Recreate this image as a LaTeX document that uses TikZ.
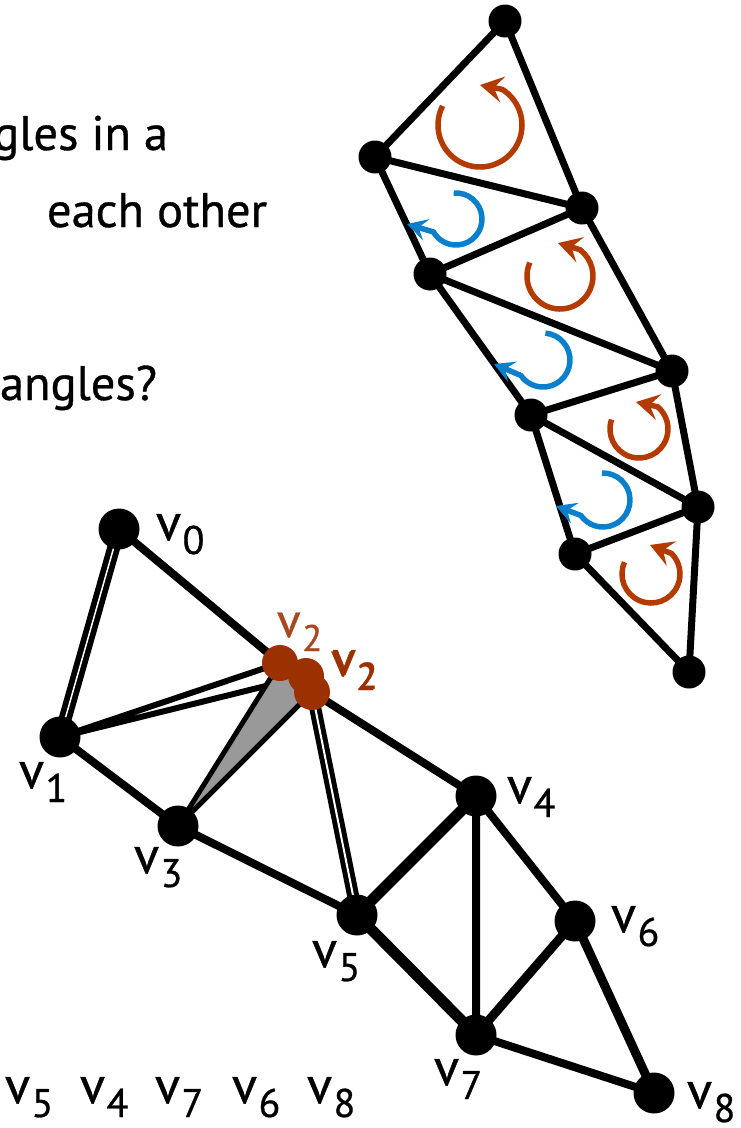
\documentclass[tikz,border=0pt]{standalone}
\usepackage{fontspec}
\setmainfont{PT Sans}[UprightFeatures={FakeBold=0.7}]
\usetikzlibrary{arrows.meta,calc}
\definecolor{rust}{HTML}{B33B00}
\definecolor{sky}{HTML}{0A80CC}
\definecolor{browndot}{HTML}{9C3100}
\definecolor{brownlab}{HTML}{A8481E}
\definecolor{sliver}{HTML}{999999}
\newcommand\vlab[2][40]{v\kern1.5pt\raisebox{-14pt}{\fontsize{#1}{#1}\selectfont #2}}
\begin{document}
\begin{tikzpicture}[x=1pt,y=-1pt,
  every node/.style={inner sep=0pt, outer sep=0pt},
  tdot/.style={circle, fill=black, minimum size=33pt},
  mdot/.style={circle, fill=black, minimum size=41pt},
  bdot/.style={circle, fill=browndot, minimum size=36pt},
  tedge/.style={line width=7pt},
  medge/.style={line width=8pt},
  wedge/.style={line width=11pt},
  lab/.style={anchor=base west, font=\fontsize{52}{52}\selectfont},
  txt/.style={font=\fontsize{48.5}{60}\selectfont},
  redarc/.style={draw=rust, line width=5.5pt, -{Stealth[length=23pt,width=26pt,inset=9pt]}},
  bluearc/.style={draw=sky, line width=5.5pt, -{Stealth[length=20pt,width=22pt,inset=8pt]}},
]
\useasboundingbox (0,0) rectangle (740,1128);

% ---------- text ----------
\node[txt, anchor=base east] (t1) at (168,150) {gles in a};
\node[txt, anchor=base west] (t2) at (47,227) {each other};
\node[txt, anchor=base west] (t3) at (0,400) {angles?};

% ---------- top strip ----------
\coordinate (T0) at (505,21);
\coordinate (T1) at (375,157);
\coordinate (T2) at (582,208);
\coordinate (T3) at (430,274);
\coordinate (T4) at (672,371);
\coordinate (T5) at (531,415);
\coordinate (T6) at (698,507);
\coordinate (T7) at (575,554);
\coordinate (T8) at (689,672);
\draw[tedge] (T0)--(T1) (T0)--(T2) (T1)--(T2) (T1)--(T3) (T2)--(T3)
  (T2)--(T4) (T3)--(T4) (T3)--(T5) (T4)--(T5) (T4)--(T6) (T5)--(T6)
  (T5)--(T7) (T6)--(T7) (T6)--(T8) (T7)--(T8);
\foreach \i in {0,...,8} \node[tdot] (TD\i) at (T\i) {};

% rotation arrows
\coordinate (R1) at (480,125);
\draw[redarc] ($(R1)+(207:42)$) arc[start angle=207, end angle=-58, radius=42] -- (480,85);
\coordinate (R2) at (560,276);
\draw[redarc] ($(R2)+(204:33)$) arc[start angle=204, end angle=-53, radius=33] -- (558,243);
\coordinate (R3) at (639,429);
\draw[redarc] ($(R3)+(199:29)$) arc[start angle=199, end angle=-50, radius=29] -- (636,402);
\coordinate (R4) at (651,574);
\draw[redarc] ($(R4)+(204:29)$) arc[start angle=204, end angle=-45, radius=29] -- (650,545);
\coordinate (B1) at (456,219);
\draw[bluearc] ($(B1)+(-95:26)$) arc[start angle=-95, end angle=150, radius=26] -- (407,224);
\coordinate (B2) at (543,360);
\draw[bluearc] ($(B2)+(-85:27)$) arc[start angle=-85, end angle=145, radius=27] -- (494,364);
\coordinate (B3) at (603,500);
\draw[bluearc] ($(B3)+(-92:27)$) arc[start angle=-92, end angle=145, radius=27] -- (556,506);

% ---------- lower mesh ----------
\coordinate (v0) at (119,529);
\coordinate (v1) at (60,737);
\coordinate (b1) at (280,663);
\coordinate (b2) at (306,676);
\coordinate (b3) at (312,692);
\coordinate (v3) at (178,826);
\coordinate (v4) at (476,796);
\coordinate (v5) at (357,915);
\coordinate (v6) at (575,921);
\coordinate (v7) at (476,1035);
\coordinate (v8) at (654,1093);

\draw[line width=13pt] (v0)--(v1);
\draw[white, line width=1.5pt] (v0)--(v1);
\draw[line width=12pt] (b3)--(v5);
\draw[white, line width=2pt] (b3)--(v5);
\draw[line width=6pt] (v1)--(b1) (v1)--(b2);
\draw[medge] (v0)--(b1) (b3)--(v4) (v1)--(v3) (v3)--(v5)
  (v4)--(v7) (v4)--(v6) (v7)--(v8);
\draw[wedge] (v5)--(v4) (v5)--(v7);
\draw[line width=9pt] (v6)--(v7) (v6)--(v8);
\filldraw[fill=sliver, draw=black, line width=5pt, line join=round] (v3)--(b1)--(b3)--cycle;

\foreach \n in {v0,v1,v3,v4,v5,v6,v7,v8} \node[mdot] (d\n) at (\n) {};
\node[bdot] (db2) at (b2) {};
\node[bdot] (db1) at (b1) {};
\node[bdot] (db3) at (b3) {};

% labels
\node[lab] (l0) at (156,540) {\vlab{0}};
\node[lab] (l1) at (19,788) {\vlab{1}};
\node[lab] (l3) at (134,873) {\vlab{3}};
\node[lab] (l4) at (507,803) {\vlab{4}};
\node[lab] (l5) at (312,967) {\vlab{5}};
\node[lab] (l6) at (611,932) {\vlab{6}};
\node[lab] (l7) at (434,1085) {\vlab{7}};
\node[lab] (l8) at (687,1108) {\vlab{8}};
\node[lab, text=brownlab, font=\fontsize{49}{49}\selectfont] (lb1) at (277,637) {\vlab[37]{2}};
\node[lab, text=browndot, font=\fontsize{49}{49}\selectfont] (lb2) at (331,676) {\vlab[37]{2}};
\node[lab, text=browndot, font=\fontsize{49}{49}\selectfont] (lb3) at (332.5,674.5) {\vlab[37]{2}};

% bottom sequence
\node[lab] (s1) at (5,1103) {\vlab{5}};
\node[lab] (s2) at (80,1103) {\vlab{4}};
\node[lab] (s3) at (155,1103) {\vlab{7}};
\node[lab] (s4) at (232,1103) {\vlab{6}};
\node[lab] (s5) at (307,1103) {\vlab{8}};
\end{tikzpicture}
\end{document}
